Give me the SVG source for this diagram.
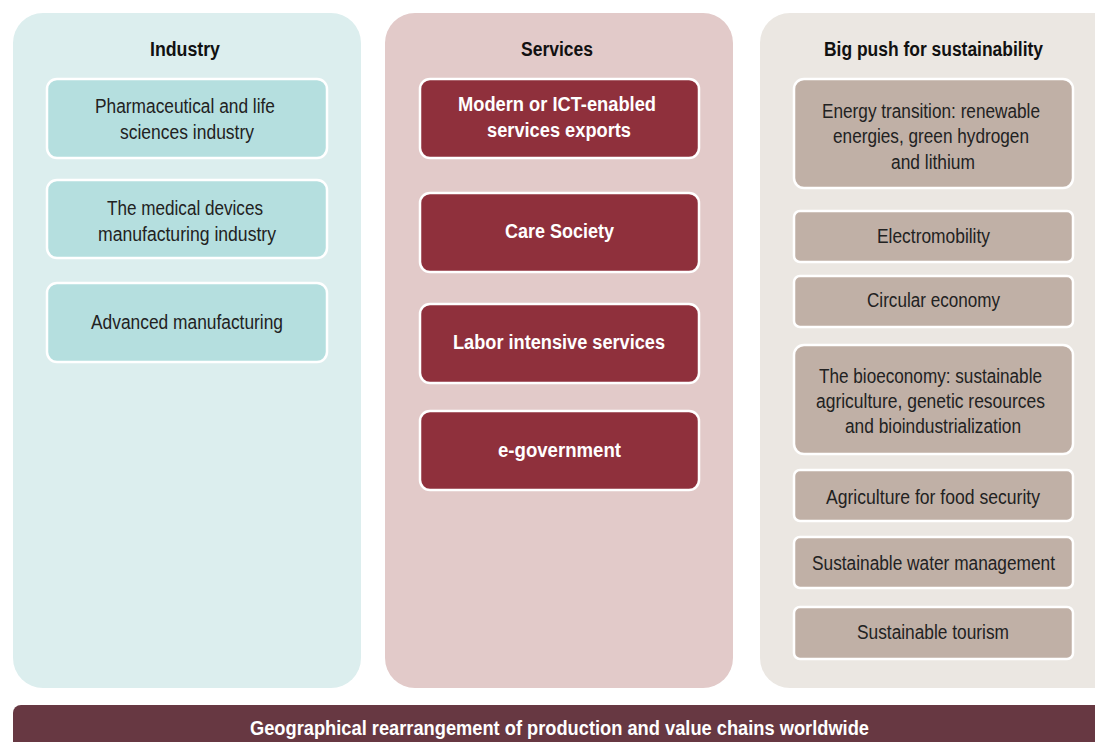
<svg xmlns="http://www.w3.org/2000/svg" width="1095" height="742" viewBox="0 0 1095 742">
  <style>
    text { font-family: "Liberation Sans", Arial, sans-serif; text-anchor: middle; dominant-baseline: central; }
    .hdr { font-size: 20px; font-weight: bold; fill: #111111; }
    .lbl { font-size: 20px; fill: #222222; }
    .lblw { font-size: 20px; font-weight: bold; fill: #ffffff; }
    .box { stroke: #ffffff; stroke-width: 2.5; }
    .ind { fill: #b5dfdf; }
    .srv { fill: #8f303c; }
    .sus { fill: #c0b0a6; }
  </style>

  <!-- column panels -->
  <g id="panel-industry">
    <rect x="13" y="13" width="348" height="675" rx="30" fill="#dceeee"/>
    <text class="hdr" x="185" y="49" textLength="70" lengthAdjust="spacingAndGlyphs">Industry</text>
  </g>
  <g id="panel-services">
    <rect x="385" y="13" width="348" height="675" rx="30" fill="#e2cac9"/>
    <text class="hdr" x="557" y="49" textLength="72" lengthAdjust="spacingAndGlyphs">Services</text>
  </g>
  <g id="panel-sustainability">
    <rect x="760" y="13" width="370" height="675" rx="30" fill="#ebe7e2"/>
    <text class="hdr" x="933.5" y="49" textLength="219" lengthAdjust="spacingAndGlyphs">Big push for sustainability</text>
  </g>

  <!-- industry items -->
  <g id="ind-pharma">
    <rect class="box ind" x="47" y="79" width="280" height="79" rx="10"/>
    <text class="lbl" x="185" y="106" textLength="180" lengthAdjust="spacingAndGlyphs">Pharmaceutical and life</text>
    <text class="lbl" x="187" y="132" textLength="134" lengthAdjust="spacingAndGlyphs">sciences industry</text>
  </g>
  <g id="ind-medical">
    <rect class="box ind" x="47" y="180" width="280" height="78" rx="10"/>
    <text class="lbl" x="185" y="208" textLength="156" lengthAdjust="spacingAndGlyphs">The medical devices</text>
    <text class="lbl" x="187" y="234" textLength="178" lengthAdjust="spacingAndGlyphs">manufacturing industry</text>
  </g>
  <g id="ind-advanced">
    <rect class="box ind" x="47" y="283" width="280" height="79" rx="10"/>
    <text class="lbl" x="187" y="322" textLength="192" lengthAdjust="spacingAndGlyphs">Advanced manufacturing</text>
  </g>

  <!-- services items -->
  <g id="srv-ict">
    <rect class="box srv" x="420" y="79" width="279" height="79" rx="10"/>
    <text class="lblw" x="557" y="104" textLength="198" lengthAdjust="spacingAndGlyphs">Modern or ICT-enabled</text>
    <text class="lblw" x="559" y="130" textLength="144" lengthAdjust="spacingAndGlyphs">services exports</text>
  </g>
  <g id="srv-care">
    <rect class="box srv" x="420" y="193" width="279" height="79" rx="10"/>
    <text class="lblw" x="559.5" y="231" textLength="109" lengthAdjust="spacingAndGlyphs">Care Society</text>
  </g>
  <g id="srv-labor">
    <rect class="box srv" x="420" y="304" width="279" height="79" rx="10"/>
    <text class="lblw" x="559" y="342" textLength="212" lengthAdjust="spacingAndGlyphs">Labor intensive services</text>
  </g>
  <g id="srv-egov">
    <rect class="box srv" x="420" y="411" width="279" height="79" rx="10"/>
    <text class="lblw" x="559.5" y="450" textLength="123" lengthAdjust="spacingAndGlyphs">e-government</text>
  </g>

  <!-- sustainability items -->
  <g id="sus-energy">
    <rect class="box sus" x="794" y="79" width="279" height="109" rx="10"/>
    <text class="lbl" x="931" y="111" textLength="218" lengthAdjust="spacingAndGlyphs">Energy transition: renewable</text>
    <text class="lbl" x="931" y="136" textLength="196" lengthAdjust="spacingAndGlyphs">energies, green hydrogen</text>
    <text class="lbl" x="933" y="162" textLength="84" lengthAdjust="spacingAndGlyphs">and lithium</text>
  </g>
  <g id="sus-emobility">
    <rect class="box sus" x="794" y="211" width="279" height="51" rx="6"/>
    <text class="lbl" x="933.5" y="236" textLength="113" lengthAdjust="spacingAndGlyphs">Electromobility</text>
  </g>
  <g id="sus-circular">
    <rect class="box sus" x="794" y="276" width="279" height="51" rx="6"/>
    <text class="lbl" x="933.5" y="300" textLength="133" lengthAdjust="spacingAndGlyphs">Circular economy</text>
  </g>
  <g id="sus-bio">
    <rect class="box sus" x="794" y="345" width="279" height="109" rx="10"/>
    <text class="lbl" x="930.5" y="376" textLength="223" lengthAdjust="spacingAndGlyphs">The bioeconomy: sustainable</text>
    <text class="lbl" x="930.5" y="401" textLength="229" lengthAdjust="spacingAndGlyphs">agriculture, genetic resources</text>
    <text class="lbl" x="933" y="426" textLength="176" lengthAdjust="spacingAndGlyphs">and bioindustrialization</text>
  </g>
  <g id="sus-food">
    <rect class="box sus" x="794" y="470" width="279" height="51" rx="6"/>
    <text class="lbl" x="933" y="497" textLength="214" lengthAdjust="spacingAndGlyphs">Agriculture for food security</text>
  </g>
  <g id="sus-water">
    <rect class="box sus" x="794" y="537" width="279" height="51" rx="6"/>
    <text class="lbl" x="933.5" y="563" textLength="243" lengthAdjust="spacingAndGlyphs">Sustainable water management</text>
  </g>
  <g id="sus-tourism">
    <rect class="box sus" x="794" y="607" width="279" height="52" rx="6"/>
    <text class="lbl" x="933" y="632" textLength="152" lengthAdjust="spacingAndGlyphs">Sustainable tourism</text>
  </g>

  <!-- base bar -->
  <g id="base-bar">
    <rect x="13" y="705" width="1100" height="60" rx="8" fill="#673842"/>
    <text class="lblw" x="559.5" y="728" textLength="619" lengthAdjust="spacingAndGlyphs">Geographical rearrangement of production and value chains worldwide</text>
  </g>

  <g id="connectors"/>
</svg>
